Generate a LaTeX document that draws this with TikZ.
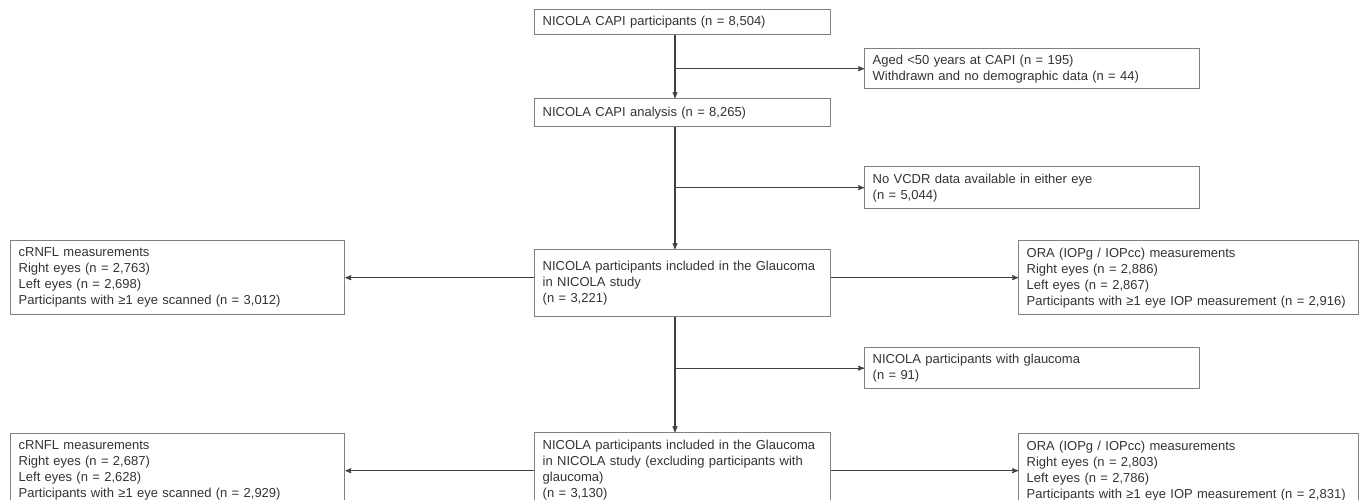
\documentclass[tikz,border=0pt]{standalone}
\usepackage{fontspec}
\setmainfont{Liberation Sans}
\usetikzlibrary{arrows}

\definecolor{boxline}{HTML}{808080}
\definecolor{arrline}{HTML}{404040}
\definecolor{txt}{HTML}{333333}

\begin{document}
\begin{tikzpicture}[->,>=stealth',x=1pt,y=-1pt,
                    every node/.style={font=\fontsize{13}{16}\selectfont,text=txt},
                    box/.style={draw=boxline,line width=1.4pt,anchor=north west,
                                align=left,inner xsep=8pt,inner ysep=4pt},
                    every edge/.style={draw=arrline,line width=1.1pt}]
  \useasboundingbox (0,0) rectangle (1360,500);

  \coordinate (spine) at (675,0);

  \node[box,text width=280pt,minimum height=25pt] (capi)     at (534,9)   {NICOLA CAPI participants (n = 8,504)};
  \node[box,text width=319pt,minimum height=40pt] (young)    at (864,48)  {Aged <50 years at CAPI (n = 195)\\Withdrawn and no demographic data (n = 44)};
  \node[box,text width=280pt,minimum height=28pt] (analysis) at (534,98)  {NICOLA CAPI analysis (n = 8,265)};
  \node[box,text width=319pt,minimum height=42pt] (vcdr)     at (864,166) {No VCDR data available in either eye\\(n = 5,044)};
  \node[box,text width=280pt,minimum height=67pt] (glauc)    at (534,249) {NICOLA participants included in the Glaucoma\\in NICOLA study\\(n = 3,221)};
  \node[box,text width=318pt,minimum height=74pt] (crnflA)   at (10,240)  {cRNFL measurements\\Right eyes (n = 2,763)\\Left eyes (n = 2,698)\\Participants with ≥1 eye scanned (n = 3,012)};
  \node[box,text width=324pt,minimum height=74pt] (oraA)     at (1018,240) {ORA (IOPg / IOPcc) measurements\\Right eyes (n = 2,886)\\Left eyes (n = 2,867)\\Participants with ≥1 eye IOP measurement (n = 2,916)};
  \node[box,text width=319pt,minimum height=41pt] (glaucdx)  at (864,347) {NICOLA participants with glaucoma\\(n = 91)};
  \node[box,text width=280pt,minimum height=75pt] (glaucex)  at (534,432) {NICOLA participants included in the Glaucoma\\in NICOLA study (excluding participants with\\glaucoma)\\(n = 3,130)};
  \node[box,text width=318pt,minimum height=74pt] (crnflB)   at (10,433)  {cRNFL measurements\\Right eyes (n = 2,687)\\Left eyes (n = 2,628)\\Participants with ≥1 eye scanned (n = 2,929)};
  \node[box,text width=324pt,minimum height=74pt] (oraB)     at (1018,433) {ORA (IOPg / IOPcc) measurements\\Right eyes (n = 2,803)\\Left eyes (n = 2,786)\\Participants with ≥1 eye IOP measurement (n = 2,831)};

  \path (capi.south -| spine)     edge (analysis.north -| spine)
        (spine |- young)          edge (young)
        (analysis.south -| spine) edge (glauc.north -| spine)
        (spine |- vcdr)           edge (vcdr)
        (glauc.west |- crnflA)    edge (crnflA)
        (glauc.east |- oraA)      edge (oraA)
        (glauc.south -| spine)    edge (glaucex.north -| spine)
        (spine |- glaucdx)        edge (glaucdx)
        (glaucex.west |- crnflB)  edge (crnflB)
        (glaucex.east |- oraB)    edge (oraB);
\end{tikzpicture}
\end{document}
